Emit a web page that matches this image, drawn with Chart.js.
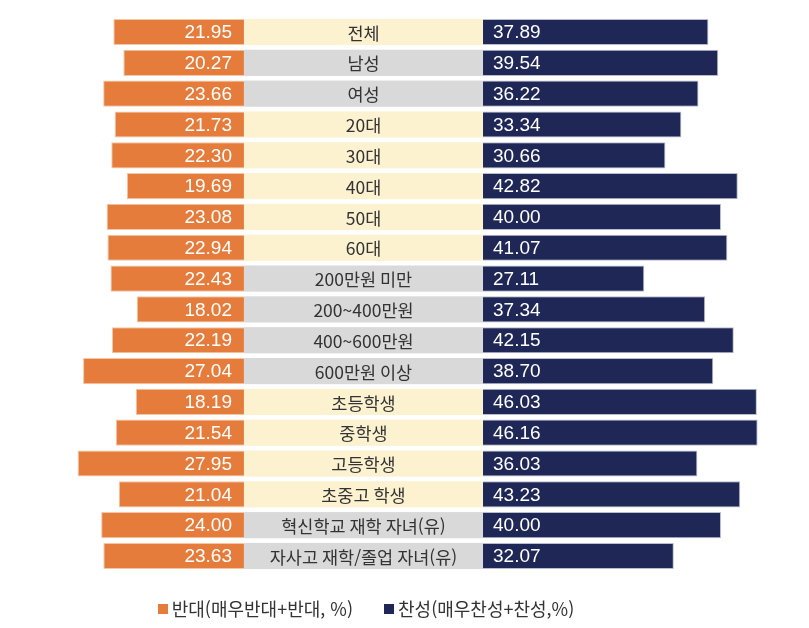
<!DOCTYPE html>
<html lang="ko">
<head>
<meta charset="utf-8">
<script src="https://cdn.jsdelivr.net/npm/chart.js@4.4.1/dist/chart.umd.min.js"></script>
<style>
	html, body { margin: 0; padding: 0; background: #fff; }
	#wrap { position: relative; width: 809px; height: 628px; }
	#legend {
		position: absolute; left: 0; top: 595px; width: 732px;
		display: flex; justify-content: center; gap: 31px;
		font: 18px "Noto Sans CJK KR", "Noto Sans", sans-serif; color: #333;
	}
	#legend span.item { display: flex; align-items: center; }
	#legend i { display: inline-block; width: 10px; height: 10px; margin-right: 4px; margin-top: 2px; }
</style>
</head>
<body>
<div id="wrap">
	<canvas id="chart" width="809" height="628"></canvas>
	<div id="legend"></div>
</div>
<script>
const categories = [
	"전체", "남성", "여성", "20대", "30대", "40대", "50대", "60대",
	"200만원 미만", "200~400만원", "400~600만원", "600만원 이상",
	"초등학생", "중학생", "고등학생", "초중고 학생",
	"혁신학교 재학 자녀(유)", "자사고 재학/졸업 자녀(유)",
];
const against = [
	21.95, 20.27, 23.66, 21.73, 22.30, 19.69, 23.08, 22.94,
	22.43, 18.02, 22.19, 27.04, 18.19, 21.54, 27.95, 21.04, 24.00, 23.63,
];
const support = [
	37.89, 39.54, 36.22, 33.34, 30.66, 42.82, 40.00, 41.07,
	27.11, 37.34, 42.15, 38.70, 46.03, 46.16, 36.03, 43.23, 40.00, 32.07,
];
// group of each row, decides the shade of the centre label cell
const rowGroups = [
	"total", "gender", "gender", "age", "age", "age", "age", "age",
	"income", "income", "income", "income",
	"school", "school", "school", "school", "child", "child",
];
const seriesNames = ["반대(매우반대+반대, %)", "찬성(매우찬성+찬성,%)"];

const COLORS = {
	against: "#e67c3b",
	support: "#1f2757",
	band: { total: "#fcf2d0", age: "#fcf2d0", school: "#fcf2d0", gender: "#d9d9d9", income: "#d9d9d9", child: "#d9d9d9" },
};
const LABEL_FONT = '17.5px "Noto Sans CJK KR", "Noto Sans", sans-serif';
const NUM_FONT = '19px "Liberation Sans", Arial, sans-serif';

const centerBands = {
	id: "centerBands",
	beforeDatasetsDraw(chart) {
		const { ctx } = chart;
		const x0 = chart.scales.xl.getPixelForValue(0);
		const x1 = chart.scales.xr.getPixelForValue(0);
		ctx.save();
		chart.getDatasetMeta(0).data.forEach((bar, i) => {
			ctx.fillStyle = COLORS.band[rowGroups[i]];
			ctx.fillRect(x0, bar.y - bar.height / 2, x1 - x0, bar.height);
			ctx.fillStyle = "#333";
			ctx.font = LABEL_FONT;
			ctx.textAlign = "center";
			ctx.textBaseline = "middle";
			ctx.fillText(categories[i], (x0 + x1) / 2, bar.y + 1);
		});
		ctx.restore();
	},
	afterDatasetsDraw(chart) {
		const { ctx } = chart;
		ctx.save();
		ctx.font = NUM_FONT;
		ctx.fillStyle = "#fff";
		ctx.textBaseline = "middle";
		chart.getDatasetMeta(0).data.forEach((bar, i) => {
			ctx.textAlign = "right";
			ctx.fillText(against[i].toFixed(2), bar.base - 12, bar.y + 1);
		});
		chart.getDatasetMeta(1).data.forEach((bar, i) => {
			ctx.textAlign = "left";
			ctx.fillText(support[i].toFixed(2), bar.base + 10, bar.y + 1);
		});
		ctx.restore();
	},
};

new Chart(document.getElementById("chart"), {
	type: "bar",
	data: {
		labels: categories,
		datasets: [
			{
				label: seriesNames[0],
				data: against.map((v) => -v),
				xAxisID: "xl",
				backgroundColor: COLORS.against,
				borderColor: "#f3c7a6",
				borderWidth: 1,
				grouped: false,
				barPercentage: 0.85,
				categoryPercentage: 1,
			},
			{
				label: seriesNames[1],
				data: support,
				xAxisID: "xr",
				backgroundColor: COLORS.support,
				borderColor: "#b9bccb",
				borderWidth: 1,
				grouped: false,
				barPercentage: 0.85,
				categoryPercentage: 1,
			},
		],
	},
	options: {
		indexAxis: "y",
		responsive: false,
		animation: false,
		layout: { padding: { top: 16.6, bottom: 56.6, left: 0, right: 0 } },
		plugins: {
			legend: { display: false },
			tooltip: { enabled: false },
		},
		scales: {
			y: { display: false },
			xl: { display: false, min: -41.0, max: 94.96 },
			xr: { display: false, min: -81.18, max: 54.79 },
		},
	},
	plugins: [centerBands],
});

const legend = document.getElementById("legend");
[COLORS.against, COLORS.support].forEach((c, i) => {
	const item = document.createElement("span");
	item.className = "item";
	item.innerHTML = `<i style="background:${c}"></i>${seriesNames[i]}`;
	legend.appendChild(item);
});
</script>
</body>
</html>
